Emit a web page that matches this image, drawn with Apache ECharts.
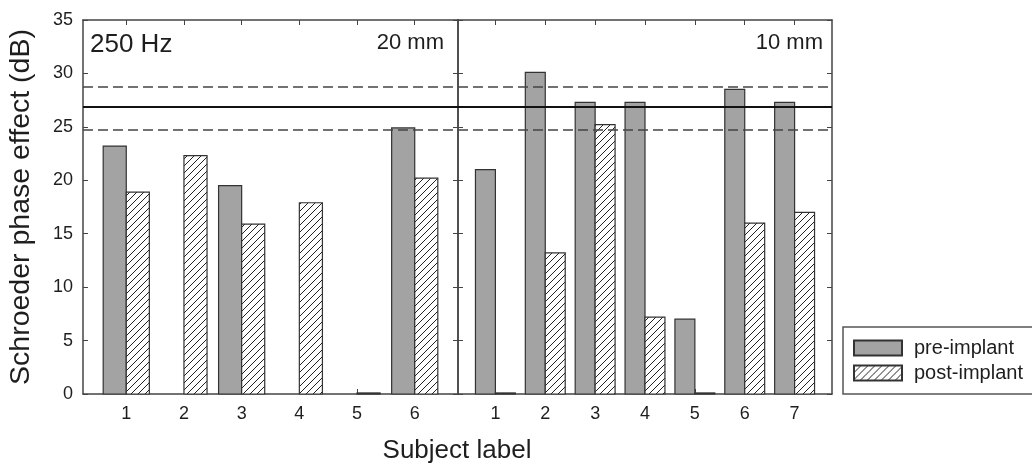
<!DOCTYPE html>
<html>
<head>
<meta charset="utf-8">
<script src="https://cdn.jsdelivr.net/npm/echarts@6/dist/echarts.min.js"></script>
<style>
  html, body { margin: 0; padding: 0; background: #fff; }
  #chart { width: 1032px; height: 468px; }
</style>
</head>
<body>
<div id="chart"></div>
<script>
// subjects in each panel
const leftSubjects = [1, 2, 3, 4, 5, 6];
const rightSubjects = [1, 2, 3, 4, 5, 6, 7];
// Schroeder phase effect (dB), null = no bar
const leftPre = [23.2, null, 19.5, null, null, 24.9];
const leftPost = [18.9, 22.3, 15.9, 17.9, 0.1, 20.2];
const rightPre = [21.0, 30.1, 27.3, 27.3, 7.0, 28.5, 27.3];
const rightPost = [0.1, 13.2, 25.2, 7.2, 0.1, 16.0, 17.0];
// normal-hearing reference: mean and range
const refMean = 26.9;
const refRange = [28.8, 24.7];
const yTicks = [0, 35, 5];

const FONT = 'Liberation Sans, Arial, sans-serif';
const INK = '#1e1e1e';
const FRAME = '#444';

// diagonal hatch for post-implant bars
function hatch() {
  const c = document.createElement('canvas');
  c.width = 7; c.height = 7;
  const ctx = c.getContext('2d');
  ctx.fillStyle = '#fff';
  ctx.fillRect(0, 0, 7, 7);
  ctx.strokeStyle = '#222';
  ctx.lineWidth = 1;
  ctx.beginPath(); ctx.moveTo(-1, 8); ctx.lineTo(8, -1); ctx.stroke();
  ctx.beginPath(); ctx.moveTo(-1, 1); ctx.lineTo(1, -1); ctx.stroke();
  ctx.beginPath(); ctx.moveTo(6, 8); ctx.lineTo(8, 6); ctx.stroke();
  return c;
}
const hatchFill = { image: hatch(), repeat: 'repeat' };

const toData = (subs, vals) =>
  subs.map((s, i) => [s, vals[i]]).filter(d => d[1] != null);

// bar drawn from subject-0.4 to subject (pre) or subject to subject+0.4 (post)
const barRender = (from, to) => (params, api) => {
  const x = api.value(0), v = api.value(1);
  const p0 = api.coord([x + from, v]);
  const p1 = api.coord([x + to, 0]);
  return {
    type: 'rect',
    shape: { x: p0[0], y: p0[1], width: p1[0] - p0[0], height: p1[1] - p0[1] },
    style: api.style()
  };
};

const refLines = {
  silent: true,
  symbol: 'none',
  label: { show: false },
  lineStyle: { type: [10, 5], color: '#444', width: 1.5 },
  data: [
    { yAxis: refMean, lineStyle: { type: 'solid', color: '#111', width: 2 } },
    { yAxis: refRange[0] },
    { yAxis: refRange[1] }
  ]
};

const xAxisFor = (gridIndex, subs, pos) => ({
  type: 'value',
  gridIndex: gridIndex,
  position: pos,
  min: 0.25,
  max: subs.length + 0.75,
  splitLine: { show: false },
  axisLine: { show: true, onZero: false, lineStyle: { color: FRAME, width: 1.5 } },
  axisTick: { show: true, inside: true, length: 5, customValues: subs, lineStyle: { color: FRAME } },
  axisLabel: {
    show: pos === 'bottom', customValues: subs, margin: 11,
    fontSize: 18, fontFamily: FONT, color: INK
  }
});

const yAxisFor = (gridIndex, pos, labels) => ({
  type: 'value',
  gridIndex: gridIndex,
  position: pos,
  min: yTicks[0],
  max: yTicks[1],
  interval: yTicks[2],
  splitLine: { show: false },
  axisLine: { show: true, lineStyle: { color: FRAME, width: 1.5 } },
  axisTick: { show: true, inside: true, length: 5, lineStyle: { color: FRAME } },
  axisLabel: { show: labels, margin: 10, fontSize: 18, fontFamily: FONT, color: INK },
  name: labels ? 'Schroeder phase effect (dB)' : '',
  nameLocation: 'middle',
  nameGap: 47,
  nameTextStyle: { fontSize: 28.5, fontFamily: FONT, color: INK }
});

const preStyle = { color: '#a3a3a3', borderColor: '#333', borderWidth: 1.2 };
const postStyle = { color: hatchFill, borderColor: '#333', borderWidth: 1.2 };

const chart = echarts.init(document.getElementById('chart'));
chart.setOption({
  animation: false,
  backgroundColor: '#fff',
  grid: [
    { left: 83, top: 20, width: 375, height: 374 },
    { left: 458, top: 20, width: 374, height: 374 }
  ],
  xAxis: [
    xAxisFor(0, leftSubjects, 'bottom'),
    xAxisFor(0, leftSubjects, 'top'),
    xAxisFor(1, rightSubjects, 'bottom'),
    xAxisFor(1, rightSubjects, 'top')
  ],
  yAxis: [
    yAxisFor(0, 'left', true),
    yAxisFor(0, 'right', false),
    yAxisFor(1, 'left', false),
    yAxisFor(1, 'right', false)
  ],
  legend: {
    data: ['pre-implant', 'post-implant'],
    orient: 'vertical',
    left: 843,
    top: 327,
    icon: 'rect',
    itemWidth: 48,
    itemHeight: 15,
    itemGap: 5,
    padding: [11, 10, 11, 10],
    borderColor: '#555',
    borderWidth: 1.5,
    textStyle: { fontSize: 20, fontFamily: FONT, color: INK, padding: [0, 0, 0, 7] }
  },
  graphic: [
    { type: 'text', style: { text: '250 Hz', x: 90, y: 45, font: '26px ' + FONT, fill: INK, align: 'left', verticalAlign: 'middle', textAlign: 'left', textVerticalAlign: 'middle' } },
    { type: 'text', style: { text: '20 mm', x: 444, y: 43, font: '22px ' + FONT, fill: INK, align: 'right', verticalAlign: 'middle', textAlign: 'right', textVerticalAlign: 'middle' } },
    { type: 'text', style: { text: '10 mm', x: 823, y: 43, font: '22px ' + FONT, fill: INK, align: 'right', verticalAlign: 'middle', textAlign: 'right', textVerticalAlign: 'middle' } },
    { type: 'text', style: { text: 'Subject label', x: 457, y: 451, font: '26px ' + FONT, fill: INK, align: 'center', verticalAlign: 'middle', textAlign: 'center', textVerticalAlign: 'middle' } }
  ],
  series: [
    {
      name: 'pre-implant', type: 'custom', xAxisIndex: 0, yAxisIndex: 0,
      renderItem: barRender(-0.4, 0), itemStyle: preStyle,
      data: toData(leftSubjects, leftPre), markLine: refLines
    },
    {
      name: 'post-implant', type: 'custom', xAxisIndex: 0, yAxisIndex: 0,
      renderItem: barRender(0, 0.4), itemStyle: postStyle,
      data: toData(leftSubjects, leftPost)
    },
    {
      name: 'pre-implant', type: 'custom', xAxisIndex: 2, yAxisIndex: 2,
      renderItem: barRender(-0.4, 0), itemStyle: preStyle,
      data: toData(rightSubjects, rightPre), markLine: refLines
    },
    {
      name: 'post-implant', type: 'custom', xAxisIndex: 2, yAxisIndex: 2,
      renderItem: barRender(0, 0.4), itemStyle: postStyle,
      data: toData(rightSubjects, rightPost)
    }
  ]
});
</script>
</body>
</html>
